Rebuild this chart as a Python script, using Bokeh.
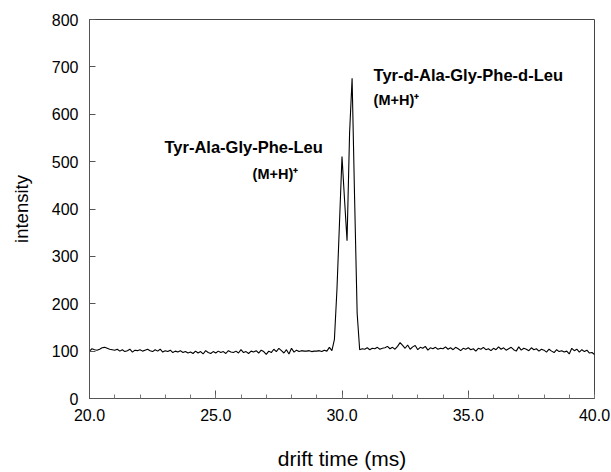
import numpy as np
from bokeh.plotting import figure
from bokeh.models import FixedTicker, NumeralTickFormatter, Range1d, Label, ColumnDataSource
from bokeh.embed import file_html
from bokeh.resources import INLINE

# drift time axis, 0.1 ms sampling from 20.0 to 40.0 ms
drift_time = np.round(np.arange(20.0, 40.05, 0.1), 1)

# intensity, one list per millisecond
i20 = [100, 105, 103, 102, 104, 107, 108, 106, 104, 103]
i21 = [102, 104, 100, 103, 99, 101, 104, 98, 102, 101]
i22 = [103, 100, 102, 104, 101, 99, 103, 100, 104, 98]
i23 = [101, 99, 102, 97, 100, 98, 101, 97, 99, 96]
i24 = [98, 95, 100, 96, 99, 94, 101, 97, 95, 99]
i25 = [96, 100, 97, 99, 95, 101, 98, 97, 100, 96]
i26 = [103, 97, 99, 95, 100, 98, 101, 96, 102, 99]
i27 = [93, 100, 97, 104, 99, 106, 101, 96, 103, 94]
i28 = [106, 98, 102, 99, 101, 100, 100, 101, 99, 100]
i29 = [100, 101, 99, 102, 100, 108, 101, 125, 230, 370]
i30 = [511, 420, 333, 560, 676, 420, 180, 103, 105, 104]
i31 = [107, 103, 106, 105, 108, 104, 106, 107, 110, 105]
i32 = [108, 104, 110, 118, 112, 106, 113, 104, 109, 112]
i33 = [103, 108, 106, 110, 102, 107, 105, 108, 104, 106]
i34 = [105, 109, 104, 107, 103, 108, 105, 101, 106, 104]
i35 = [107, 103, 105, 100, 106, 104, 108, 103, 105, 101]
i36 = [106, 103, 109, 104, 107, 102, 105, 108, 103, 100]
i37 = [109, 102, 106, 104, 101, 107, 103, 105, 100, 104]
i38 = [102, 98, 104, 100, 97, 103, 99, 101, 98, 100]
i39 = [94, 106, 101, 104, 98, 103, 99, 102, 96, 97]
i40 = [93]

intensity = (i20 + i21 + i22 + i23 + i24 + i25 + i26 + i27 + i28 + i29 + i30 +
             i31 + i32 + i33 + i34 + i35 + i36 + i37 + i38 + i39 + i40)

x_major = [20, 25, 30, 35, 40]
x_minor = list(range(20, 41))
y_major = [0, 100, 200, 300, 400, 500, 600, 700, 800]

FONT = "Liberation Sans"

p = figure(width=611, height=472, output_backend="svg", toolbar_location=None,
           x_range=Range1d(20, 40), y_range=Range1d(0, 800),
           min_border_left=89, min_border_right=17, min_border_top=19, min_border_bottom=71)
p.grid.visible = False
p.outline_line_color = "#444444"
p.outline_line_width = 1
p.background_fill_color = "white"
p.border_fill_color = "white"

src = ColumnDataSource(dict(x=drift_time, y=intensity))
p.line("x", "y", source=src, line_color="black", line_width=1.1)

xa = p.xaxis[0]
xa.ticker = FixedTicker(ticks=x_major, minor_ticks=x_minor)
xa.formatter = NumeralTickFormatter(format="0.0")
xa.major_tick_in = 8
xa.major_tick_out = 0
xa.minor_tick_in = 4
xa.minor_tick_out = 0
xa.axis_line_color = "#555555"
xa.major_tick_line_color = "#555555"
xa.minor_tick_line_color = "#777777"
xa.major_label_text_font = FONT
xa.major_label_text_font_size = "16px"
xa.major_label_text_color = "black"
xa.major_label_standoff = 10
xa.axis_label = "drift time (ms)"
xa.axis_label_text_font = FONT
xa.axis_label_text_font_size = "21px"
xa.axis_label_text_font_style = "normal"
xa.axis_label_text_color = "black"
xa.axis_label_standoff = 23

ya = p.yaxis[0]
ya.ticker = FixedTicker(ticks=y_major, minor_ticks=[])
ya.major_tick_in = 6
ya.major_tick_out = 0
ya.minor_tick_in = 0
ya.minor_tick_out = 0
ya.axis_line_color = "#555555"
ya.major_tick_line_color = "#555555"
ya.major_label_text_font = FONT
ya.major_label_text_font_size = "16px"
ya.major_label_text_color = "black"
ya.major_label_standoff = 11
ya.axis_label = "intensity"
ya.axis_label_text_font = FONT
ya.axis_label_text_font_size = "18.5px"
ya.axis_label_text_font_style = "normal"
ya.axis_label_text_color = "black"
ya.axis_label_standoff = 17

def add_label(x, y, text, size):
    p.add_layout(Label(x=x, y=y, text=text, x_units="data", y_units="data",
                       text_font=FONT, text_font_size=size, text_font_style="bold",
                       text_align="left", text_baseline="middle", text_color="black"))

add_label(22.97, 530, "Tyr-Ala-Gly-Phe-Leu", "16.5px")
add_label(26.46, 473, "(M+H)\u207a", "14.5px")
add_label(31.25, 683, "Tyr-d-Ala-Gly-Phe-d-Leu", "16.5px")
add_label(31.25, 630, "(M+H)\u207a", "14.5px")

open("out.html", "w").write(file_html(p, INLINE))
